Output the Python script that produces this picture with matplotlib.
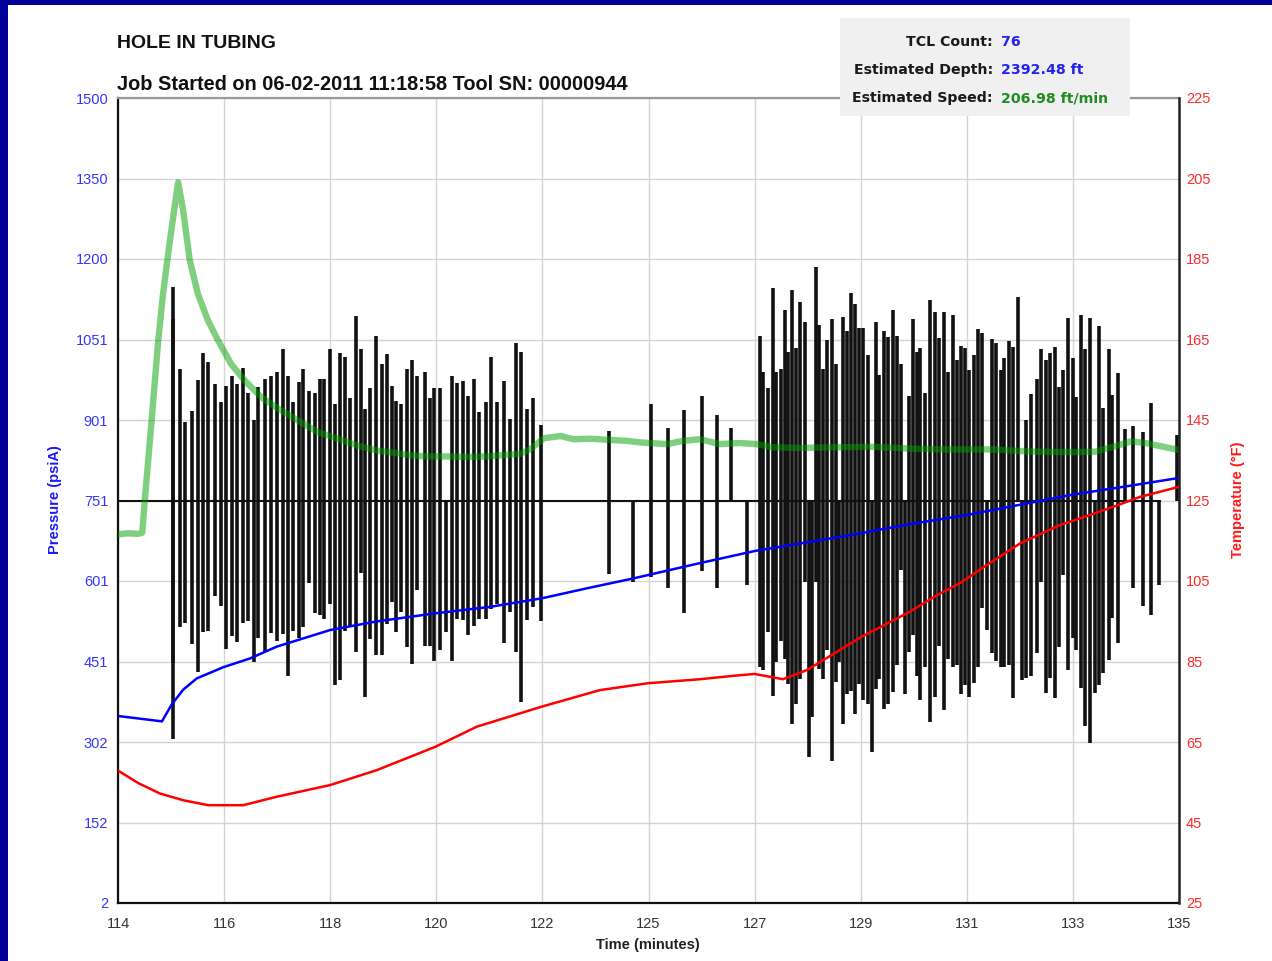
import numpy as np
import matplotlib
matplotlib.use("Agg")
import matplotlib.pyplot as plt
from matplotlib.patches import Rectangle
from matplotlib import font_manager as fm

# ---------------- data ----------------
x_tick_labels = ['114', '116', '118', '120', '122', '125', '127', '129', '131', '133', '135']
p_tick_labels = ['2', '152', '302', '451', '601', '751', '901', '1051', '1200', '1350', '1500']
t_tick_labels = ['25', '45', '65', '85', '105', '125', '145', '165', '185', '205', '225']

time_min, time_max = 114.0, 135.0
p_min, p_max = 2.0, 1500.0
temp_min, temp_max = 25.0, 225.0

baseline_pressure = 751
baseline_end = 134.62

spike_t = [115.086, 115.095, 115.218, 115.33, 115.46, 115.59, 115.69, 115.78, 115.91, 116.03, 116.14,
           116.25, 116.35, 116.47, 116.57, 116.70, 116.78, 116.91, 117.03, 117.14, 117.26,
           117.36, 117.46, 117.59, 117.67, 117.79, 117.90, 118.00, 118.08, 118.20, 118.30,
           118.40, 118.50, 118.60, 118.71, 118.80,
           118.88, 118.98, 119.10, 119.22, 119.32, 119.42, 119.50, 119.60, 119.72, 119.82,
           119.92, 120.07, 120.17, 120.26, 120.38, 120.50, 120.61, 120.71, 120.82, 120.93,
           121.04, 121.15, 121.29, 121.39, 121.51, 121.64, 121.76, 121.88, 121.97, 122.10,
           122.21, 122.37,
           123.71, 124.20, 124.55, 124.89, 125.21, 125.56, 125.85, 126.14, 126.45,
           126.70, 126.76, 126.86, 126.96, 127.03, 127.12, 127.21, 127.27, 127.35, 127.42,
           127.50, 127.59, 127.67, 127.73, 127.82, 127.88, 127.96, 128.04, 128.13, 128.21,
           128.28, 128.34, 128.42, 128.51, 128.59, 128.67, 128.75, 128.84, 128.92, 129.00,
           129.07, 129.17, 129.25, 129.33, 129.41, 129.50, 129.58, 129.66, 129.74, 129.81,
           129.88, 129.98, 130.08, 130.17, 130.25, 130.34,
           130.43, 130.52, 130.60, 130.68, 130.77, 130.85, 130.95, 131.03, 131.11, 131.19,
           131.29, 131.37, 131.47, 131.54, 131.64, 131.72, 131.82, 131.90, 131.98, 132.08,
           132.18, 132.26, 132.36, 132.45, 132.54, 132.62, 132.70, 132.80, 132.90, 132.97,
           133.06, 133.14, 133.24, 133.33, 133.41, 133.50, 133.61, 133.67, 133.79, 133.93,
           134.08, 134.28, 134.45, 134.61, 134.96]
spike_top = [1149, 1088, 995, 898, 917, 975, 1026, 1009, 968, 934, 965,
             983, 968, 998, 951, 901, 963, 977, 983, 990, 1033,
             983, 934, 972, 995, 954, 951, 977, 977, 1033, 930,
             1026, 1018, 942, 1095, 1033,
             921, 960, 1058, 1005, 1024, 965, 937, 931, 995, 1013,
             983, 991, 942, 960, 960, 751, 983, 970, 974, 946,
             978, 915, 935, 1018, 934, 974, 903, 1044, 1028, 921,
             941, 892,
             880, 751, 930, 885, 920, 946, 911, 885, 751,
             1058, 991, 960, 1146, 991, 996, 1106, 1028, 1142, 1034,
             1121, 1084, 751, 751, 1185, 1077, 996, 1049, 1089, 1005,
             751, 1092, 1067, 1137, 1117, 1072, 1072, 1022, 751, 1084,
             984, 1067, 1055, 1106, 1057, 1005, 751, 946, 1088, 1028,
             1034, 951, 1125, 1102, 1053, 1101,
             991, 1096, 1013, 1039, 1034, 994, 1022, 1070, 1062, 751,
             1051, 1044, 994, 1016, 1047, 1037, 1130, 751, 901, 949,
             977, 1032, 1013, 1026, 1037, 963, 994, 1090, 1016, 944,
             1096, 1032, 1090, 751, 1075, 923, 1032, 947, 988, 884,
             890, 879, 932, 751, 873]
spike_bot = [308, 449, 516, 523, 484, 431, 506, 508, 573, 555, 475,
             499, 488, 523, 527, 451, 496, 470, 504, 489, 502,
             424, 508, 495, 516, 597, 541, 538, 531, 559, 407,
             417, 509, 516, 470, 617,
             385, 494, 463, 463, 522, 562, 506, 543, 478, 447,
             584, 481, 481, 452, 472, 506, 452, 531, 528, 500,
             518, 531, 531, 549, 559, 485, 543, 469, 376, 528,
             553, 526,
             614, 599, 609, 588, 541, 620, 589, 751, 594,
             441, 435, 506, 388, 450, 490, 456, 410, 335, 373,
             419, 599, 273, 348, 599, 438, 419, 472, 267, 413,
             450, 335, 391, 397, 354, 410, 379, 373, 283, 400,
             419, 363, 373, 394, 444, 621, 391, 469, 500, 425,
             379, 441, 338, 385, 481, 362,
             456, 442, 445, 390, 408, 386, 411, 442, 551, 510,
             467, 452, 442, 442, 445, 383, 751, 417, 421, 424,
             467, 600, 393, 421, 383, 479, 613, 436, 495, 473,
             402, 331, 300, 393, 408, 430, 455, 532, 486, 751,
             588, 554, 538, 594, 751]

speed_t = [114.0, 114.2, 114.4, 114.48, 114.53, 114.66, 114.79, 114.89, 115.02, 115.12, 115.19,
           115.29, 115.42, 115.58, 115.78, 115.98, 116.24, 116.51, 116.84, 117.17, 117.56,
           117.96, 118.35, 118.75, 119.12, 119.45, 119.78, 120.11, 120.51, 120.91, 121.31,
           121.7, 121.97, 122.17, 122.43, 122.76, 123.02, 123.35, 123.68, 124.07, 124.34,
           124.86, 125.19, 125.52, 125.91, 126.3, 126.63, 126.96, 127.5, 128.2, 128.9,
           129.6, 130.3, 131.3, 132.1, 132.9, 133.35, 133.7, 134.05, 134.34, 134.74, 135.0]
speed_v = [688, 690, 689, 691, 751, 894, 1042, 1135, 1229, 1297, 1343,
           1291, 1198, 1136, 1086, 1049, 1005, 974, 943, 922, 900,
           878, 866, 853, 844, 840, 835, 833, 833, 832, 833,
           836, 838, 847, 867, 871, 865, 866, 864, 862, 859,
           856, 862, 865, 856, 858, 856, 850, 849, 850, 851,
           848, 846, 846, 842, 841, 842, 851, 861, 858, 850, 845]

pressure_t = [114.0, 114.87, 115.06, 115.29, 115.56, 116.09, 116.61, 117.14, 118.2, 119.12,
              120.28, 121.36, 122.39, 123.3, 124.2, 125.4, 126.6, 127.63, 128.7, 129.61,
              130.8, 131.9, 132.9, 134.0, 135.0]
pressure_v = [350, 340, 371, 399, 420, 441, 457, 479, 510, 526,
              541, 553, 569, 588, 606, 632, 657, 673, 690, 706,
              724, 744, 762, 778, 793]

temp_t = [114.0, 114.4, 114.83, 115.3, 115.79, 116.48, 117.14, 118.2, 119.12, 120.28,
          121.1, 122.39, 123.54, 124.49, 125.52, 126.31, 126.6, 127.16, 127.64, 128.71,
          129.62, 130.27, 130.67, 131.2, 131.85, 132.64, 133.1, 133.69, 134.23, 135.0]
temp_v = [57.9, 54.8, 52.2, 50.5, 49.3, 49.3, 51.4, 54.3, 58.0, 63.8,
          68.8, 73.8, 77.9, 79.6, 80.6, 81.6, 81.9, 80.6, 82.9, 91.1,
          97.0, 101.9, 104.5, 109.0, 114.3, 118.9, 120.8, 123.4, 125.9, 128.4]

title = 'HOLE IN TUBING'
subtitle = 'Job Started on 06-02-2011 11:18:58 Tool SN: 00000944'
info_labels = ['TCL Count:', 'Estimated Depth:', 'Estimated Speed:']
info_values = ['76', '2392.48 ft', '206.98 ft/min']
info_colors = ['#2222ee', '#2222ee', '#1e8c1e']

# ---------------- fonts ----------------
names = {f.name for f in fm.fontManager.ttflist}
NARROW = 'Liberation Sans Narrow' if 'Liberation Sans Narrow' in names else 'Liberation Sans'
SANS = 'Liberation Sans'
plt.rcParams['font.family'] = [SANS, 'DejaVu Sans']

W, H = 1272, 961
fig = plt.figure(figsize=(W / 100, H / 100), dpi=100)
fig.patch.set_facecolor('white')

def fx(px):
    return px / W

def fy(py):
    return 1 - py / H

# navy frame
fig.add_artist(Rectangle((0, 0), fx(8), 1, transform=fig.transFigure,
                         facecolor='#000099', edgecolor='none', zorder=0))
fig.add_artist(Rectangle((0, fy(5)), 1, 1 - fy(5), transform=fig.transFigure,
                         facecolor='#000099', edgecolor='none', zorder=0))

L, R, T, B = 118, 1179, 98, 903
ax = fig.add_axes([fx(L), fy(B), fx(R) - fx(L), fy(T) - fy(B)])
ax2 = ax.twinx()

ax.set_xlim(time_min, time_max)
ax.set_ylim(p_min, p_max)
ax2.set_ylim(temp_min, temp_max)

xt = np.linspace(time_min, time_max, len(x_tick_labels))
pt = np.linspace(p_min, p_max, len(p_tick_labels))
tt = np.linspace(temp_min, temp_max, len(t_tick_labels))
ax.set_xticks(xt)
ax.set_xticklabels(x_tick_labels)
ax.set_yticks(pt)
ax.set_yticklabels(p_tick_labels)
ax2.set_yticks(tt)
ax2.set_yticklabels(t_tick_labels)

ax.grid(True, color='#d4d4d4', linewidth=1.0, zorder=0)
ax.set_axisbelow(True)

ax.tick_params(axis='y', length=0, pad=7, labelcolor='#3535ff', labelsize=10.5)
ax.tick_params(axis='x', length=0, pad=10, labelcolor='#333333', labelsize=10.5)
ax2.tick_params(axis='y', length=0, pad=5, labelcolor='#ff2a2a', labelsize=10.5)
for lbl in ax.get_yticklabels() + ax.get_xticklabels() + ax2.get_yticklabels():
    lbl.set_fontfamily(NARROW)

for s in ['left', 'bottom']:
    ax.spines[s].set_color('#111111')
    ax.spines[s].set_linewidth(1.6)
ax.spines['top'].set_color('#999999')
ax.spines['top'].set_linewidth(1.6)
ax.spines['right'].set_visible(False)
for s in ['left', 'top', 'bottom']:
    ax2.spines[s].set_visible(False)
ax2.spines['right'].set_color('#222222')
ax2.spines['right'].set_linewidth(1.8)

# black pressure-switch trace
st = np.array(spike_t)
ax.plot([time_min, baseline_end], [baseline_pressure, baseline_pressure],
        color='#111111', linewidth=1.5, zorder=2)
ax.vlines(st, np.minimum(spike_bot, baseline_pressure), np.maximum(spike_top, baseline_pressure),
          color='#111111', linewidth=2.6, zorder=2, capstyle='butt')

# green speed trace
ax.plot(speed_t, speed_v, color='#00a000', alpha=0.5, linewidth=4.6,
        solid_capstyle='round', solid_joinstyle='round', zorder=3)
# blue pressure
ax.plot(pressure_t, pressure_v, color='#0000ff', linewidth=1.8, zorder=4,
        solid_joinstyle='round')
# red temperature
ax2.plot(temp_t, temp_v, color='#ff0000', linewidth=1.8, zorder=4,
         solid_joinstyle='round')

# texts
fig.text(fx(117), fy(44), title, fontsize=14, fontweight='bold', color='#111111',
         ha='left', va='center')
fig.text(fx(117), fy(85), subtitle, fontsize=14.4, fontweight='bold', color='#111111',
         ha='left', va='center')
fig.text(fx(55), fy(500), 'Pressure (psiA)', rotation=90, fontsize=10.5, fontweight='bold',
         color='#1a1aff', ha='center', va='center')
fig.text(fx(1238), fy(500), 'Temperature (°F)', rotation=90, fontsize=10.5, fontweight='bold',
         color='#ff1a1a', ha='center', va='center')
fig.text(fx(648), fy(945), 'Time (minutes)', fontsize=10.5, fontweight='bold',
         color='#222222', ha='center', va='center')

# info box
fig.add_artist(Rectangle((fx(840), fy(116)), fx(1130) - fx(840), fy(18) - fy(116),
                         transform=fig.transFigure, facecolor='#f0f0f0',
                         edgecolor='none', zorder=10))
rows_y = [42, 70, 98]
for yy, lab, val, col in zip(rows_y, info_labels, info_values, info_colors):
    fig.text(fx(993), fy(yy), lab, fontsize=10.2, fontweight='bold', color='#1a1a1a',
             ha='right', va='center', family='DejaVu Sans', zorder=11)
    fig.text(fx(1001), fy(yy), val, fontsize=10.2, fontweight='bold', color=col,
             ha='left', va='center', family='DejaVu Sans', zorder=11)

fig.savefig('out.png', dpi=100)
